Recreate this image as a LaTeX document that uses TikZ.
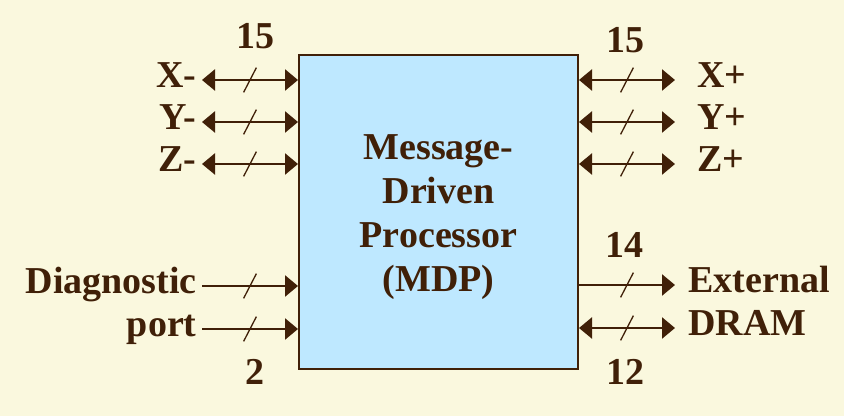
\documentclass[tikz,border=0pt]{standalone}
\usepackage{fontspec}
\setmainfont{Liberation Serif}
\usetikzlibrary{arrows.meta,decorations.markings}
\definecolor{bgyellow}{RGB}{250,248,222}
\definecolor{mdpblue}{RGB}{190,232,255}
\definecolor{ink}{RGB}{64,32,8}

\begin{document}
\begin{tikzpicture}[x=0.5pt, y=-0.5pt, color=ink,
    font=\fontsize{19}{22}\selectfont\bfseries,
    lbl/.style={text height=13.3pt, text depth=5.7pt, inner xsep=2.5pt, inner ysep=0pt},
    num/.style={text height=12.9pt, text depth=0pt, inner sep=0pt},
    bus/.style={line width=1.2pt, >={Triangle[length=6.5pt,width=10.5pt]},
        postaction={decorate},
        decoration={markings, mark=at position 0.5 with {\draw[-, line width=0.65pt] (-3.2pt,-6.2pt) -- (3.2pt,6.2pt);}}}]

    \fill[bgyellow] (0,0) rectangle (844,416);

    \node[draw, line width=1pt, fill=mdpblue, minimum width=139.5pt, minimum height=157pt, align=center] (mdp) at (438.5,212)
    {\rule{0pt}{18pt}Message-\\Driven\\Processor\\(MDP)};

    \node[lbl, anchor=east] (xm) at (202,80) {X-};
    \node[lbl, anchor=east] (ym) at (202,122) {Y-};
    \node[lbl, anchor=east] (zm) at (202,164) {Z-};
    \node[lbl, anchor=east] (diag) at (202,286) {Diagnostic};
    \node[lbl, anchor=east] (port) at (202,329) {port};

    \node[lbl, anchor=west, inner xsep=11pt] (xp) at (675,80) {X+};
    \node[lbl, anchor=west, inner xsep=11pt] (yp) at (675,122) {Y+};
    \node[lbl, anchor=west, inner xsep=11pt] (zp) at (675,164) {Z+};
    \node[lbl, anchor=west, inner xsep=6.5pt] (ext) at (675,285) {External};
    \node[lbl, anchor=west, inner xsep=6.5pt] (dram) at (675,328) {DRAM};

    \draw[bus,<->] (xm.east) -- (mdp.west |- xm.east);
    \draw[bus,<->] (ym.east) -- (mdp.west |- ym.east);
    \draw[bus,<->] (zm.east) -- (mdp.west |- zm.east);
    \draw[bus,->] (diag.east) -- (mdp.west |- diag.east);
    \draw[bus,->] (port.east) -- (mdp.west |- port.east);

    \draw[bus,<->] (mdp.east |- xp.west) -- (xp.west);
    \draw[bus,<->] (mdp.east |- yp.west) -- (yp.west);
    \draw[bus,<->] (mdp.east |- zp.west) -- (zp.west);
    \draw[bus,->] (mdp.east |- ext.west) -- (ext.west);
    \draw[bus,<->] (mdp.east |- dram.west) -- (dram.west);

    \node[num] (w15l) at (255,36) {15};
    \node[num] (w15r) at (625,40) {15};
    \node[num] (w14) at (624,245) {14};
    \node[num] (w2) at (255,372) {2};
    \node[num] (w12) at (625,372) {12};

\end{tikzpicture}
\end{document}
